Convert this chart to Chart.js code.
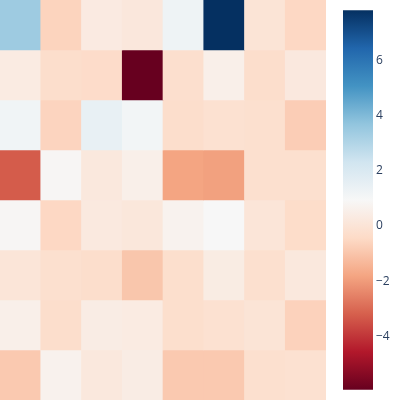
<!DOCTYPE html>
<html>
<head>
<meta charset="utf-8">
<script src="https://cdn.jsdelivr.net/npm/chart.js@4"></script>
<style>
  body { margin: 0; background: #fff; }
  #wrap { position: relative; width: 400px; height: 400px; }
  #heat { position: absolute; left: 0; top: 0; }
  #bar { position: absolute; left: 330px; top: 0; }
</style>
</head>
<body>
<div id="wrap">
  <canvas id="heat" width="326" height="400"></canvas>
  <canvas id="bar" width="70" height="400"></canvas>
</div>
<script>
// heatmap values, top row first
const cols = ['0', '1', '2', '3', '4', '5', '6', '7'];
const row0 = [3.44, -0.61, 0.31, 0.16, 1.27, 7.83, 0.01, -0.5];
const row1 = [0.35, -0.3, -0.36, -5.94, -0.23, 0.53, -0.3, 0.22];
const row2 = [1.2, -0.6, 1.48, 1.12, -0.3, -0.15, -0.2, -0.78];
const row3 = [-3.26, 0.85, 0.2, 0.55, -1.81, -1.88, -0.2, -0.2];
const row4 = [0.85, -0.5, 0.25, 0.15, 0.7, 0.95, 0.05, -0.35];
const row5 = [0.05, -0.2, -0.3, -0.98, -0.25, 0.38, -0.2, 0.2];
const row6 = [0.55, -0.3, 0.4, 0.35, -0.25, -0.15, 0.0, -0.65];
const row7 = [-0.9, 0.65, 0.2, 0.4, -0.9, -0.9, -0.2, -0.15];
const rows = [row0, row1, row2, row3, row4, row5, row6, row7];

const vmin = -5.94;
const vmax = 7.83;
const cbTicks = [-4, -2, 0, 2, 4, 6];

// RdBu stops
const rdbu = [
  [103, 0, 31], [178, 24, 43], [214, 96, 77], [244, 165, 130], [253, 219, 199],
  [247, 247, 247], [209, 229, 240], [146, 197, 222], [67, 147, 195], [33, 102, 172], [5, 48, 97]
];

function colorFor(v) {
  let t = (v - vmin) / (vmax - vmin);
  t = Math.max(0, Math.min(1, t));
  const p = t * (rdbu.length - 1);
  const i = Math.min(Math.floor(p), rdbu.length - 2);
  const f = p - i;
  const a = rdbu[i], b = rdbu[i + 1];
  const c = a.map((x, k) => Math.round(x + (b[k] - x) * f));
  return 'rgb(' + c.join(',') + ')';
}

const heatSets = rows.map(function (r, ri) {
  return {
    data: r.map(() => [ri, ri + 1]),
    backgroundColor: r.map(colorFor),
    borderWidth: 0,
    grouped: false,
    barPercentage: 1,
    categoryPercentage: 1
  };
});

new Chart(document.getElementById('heat'), {
  type: 'bar',
  data: { labels: cols, datasets: heatSets },
  options: {
    responsive: false,
    animation: false,
    plugins: { legend: { display: false }, tooltip: { enabled: false } },
    layout: { padding: 0 },
    scales: {
      x: { display: false },
      y: { display: false, min: 0, max: 8, reverse: true }
    }
  }
});

// colorbar
Chart.defaults.font.family = '"Open Sans", sans-serif';
new Chart(document.getElementById('bar'), {
  type: 'bar',
  data: {
    labels: ['c'],
    datasets: [{
      data: [[vmin, vmax]],
      borderWidth: 0,
      barPercentage: 1,
      categoryPercentage: 1,
      backgroundColor: function (ctx) {
        const area = ctx.chart.chartArea;
        if (!area) return '#fff';
        const g = ctx.chart.ctx.createLinearGradient(0, area.bottom, 0, area.top);
        rdbu.forEach((c, i) => g.addColorStop(i / (rdbu.length - 1), 'rgb(' + c.join(',') + ')'));
        return g;
      }
    }]
  },
  options: {
    responsive: false,
    animation: false,
    plugins: { legend: { display: false }, tooltip: { enabled: false } },
    layout: { padding: { left: 13, top: 10, bottom: 10, right: 0 } },
    scales: {
      x: { display: false },
      y: {
        position: 'right',
        min: vmin,
        max: vmax,
        grid: { display: false, drawTicks: false },
        border: { display: false },
        afterBuildTicks: function (s) { s.ticks = cbTicks.map(v => ({ value: v })); },
        afterFit: function (s) { s.width = 27; },
        ticks: {
          padding: 3,
          color: '#2a3f5f',
          font: { size: 12 },
          callback: v => String(v).replace('-', '\u2212')
        }
      }
    }
  }
});
</script>
</body>
</html>
